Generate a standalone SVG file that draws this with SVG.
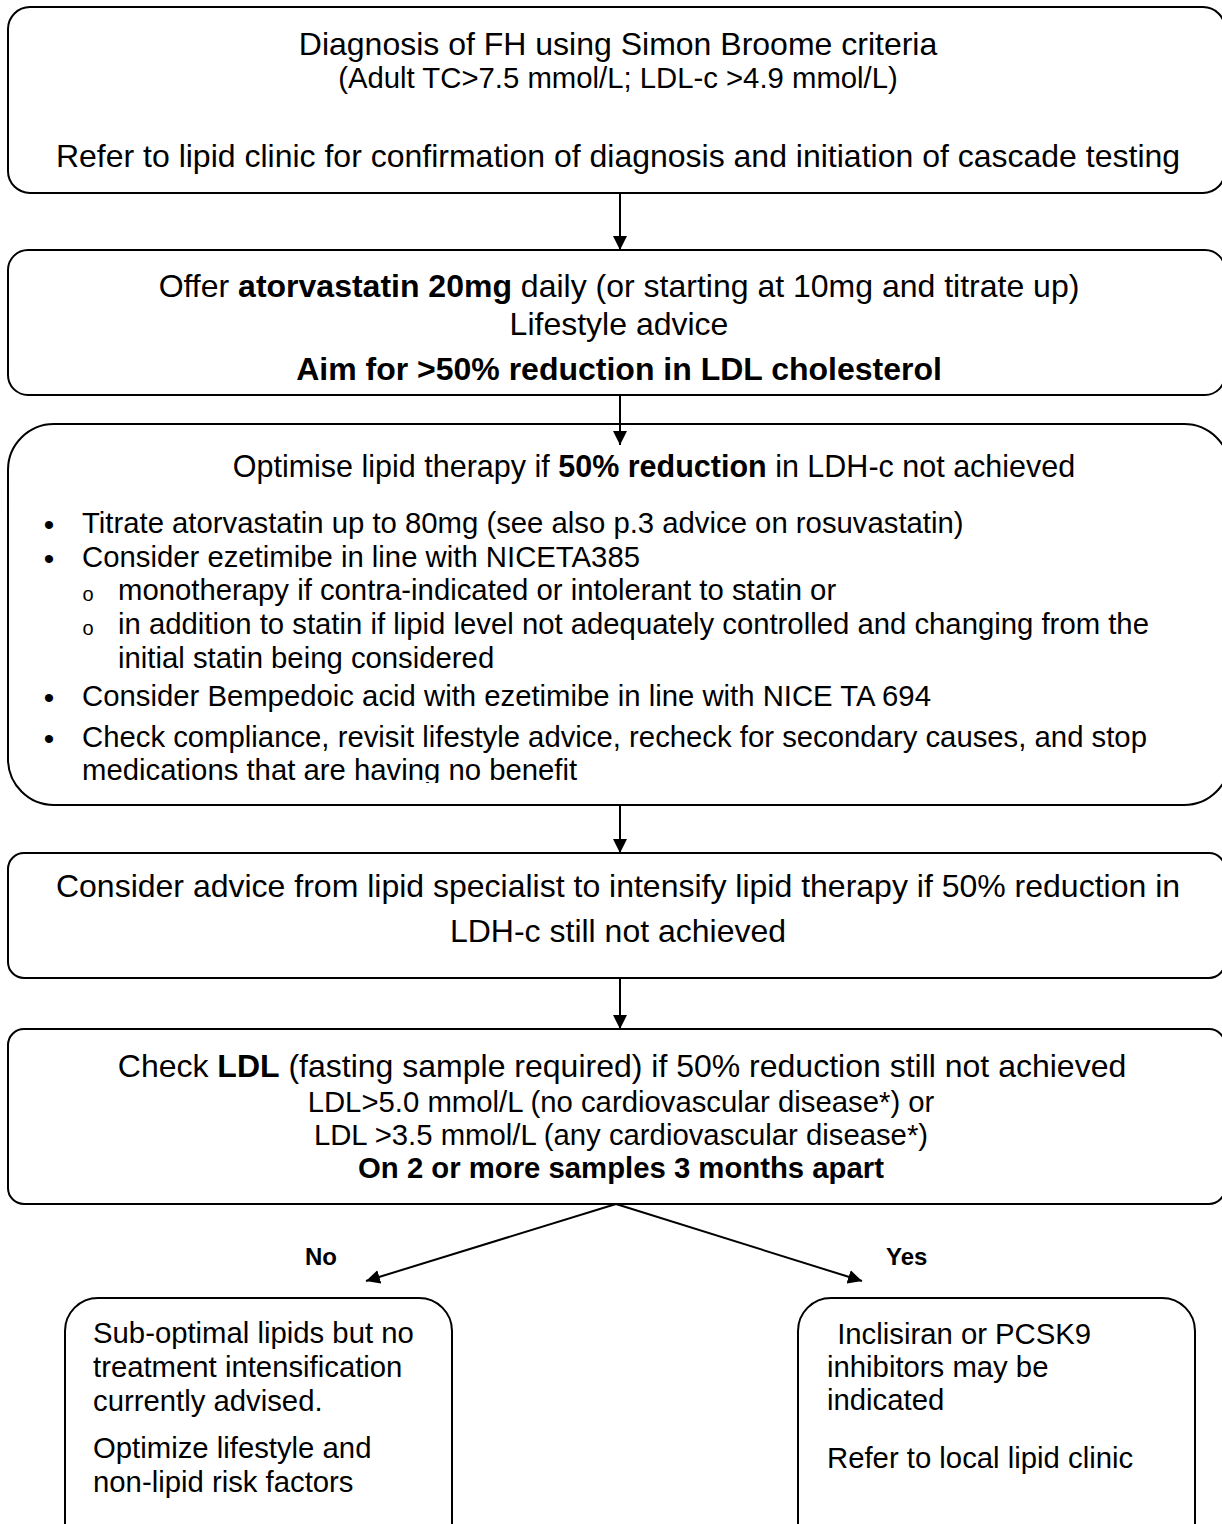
<svg xmlns="http://www.w3.org/2000/svg" width="1222" height="1524" viewBox="0 0 1222 1524">
<style>
.box{fill:#fff;stroke:#000;stroke-width:2}
.t{font-family:"Liberation Sans",Arial,sans-serif;fill:#000}
.c{text-anchor:middle}
.b{font-weight:bold}
.con{stroke:#000;stroke-width:2;fill:none}
</style>
<defs>
<marker id="ah" viewBox="0 0 10 10" refX="10" refY="5" markerWidth="14" markerHeight="14" markerUnits="userSpaceOnUse" orient="auto"><path d="M0,0 L10,5 L0,10 z" fill="#000"/></marker>
<clipPath id="clip3"><rect x="0" y="424" width="1222" height="359"/></clipPath>
</defs>
<rect width="1222" height="1524" fill="#fff"/>
<g id="n1">
<rect class="box" x="8" y="7" width="1217" height="186" rx="22"/>
<text class="t c" x="618" y="55" font-size="32">Diagnosis of FH using Simon Broome criteria</text>
<text class="t c" x="618" y="88" font-size="29.3">(Adult TC&gt;7.5 mmol/L; LDL-c &gt;4.9 mmol/L)</text>
<text class="t c" x="618" y="167" font-size="32">Refer to lipid clinic for confirmation of diagnosis and initiation of cascade testing</text>
</g>
<g id="n2">
<rect class="box" x="8" y="250" width="1217" height="145" rx="20"/>
<text class="t c" x="619" y="297" font-size="32">Offer <tspan class="b">atorvastatin 20mg</tspan> daily (or starting at 10mg and titrate up)</text>
<text class="t c" x="619" y="335" font-size="32">Lifestyle advice</text>
<text class="t c b" x="619" y="380" font-size="32">Aim for &gt;50% reduction in LDL cholesterol</text>
</g>
<g id="n3">
<rect class="box" x="8" y="424" width="1222" height="381" rx="46"/>
<text class="t c" x="654" y="477" font-size="30.5">Optimise lipid therapy if <tspan class="b">50% reduction</tspan> in LDH-c not achieved</text>
<g class="t" font-size="29.3" clip-path="url(#clip3)">
<text x="49" y="535" class="c" font-size="30">•</text><text x="82" y="533">Titrate atorvastatin up to 80mg (see also p.3 advice on rosuvastatin)</text>
<text x="49" y="569" class="c" font-size="30">•</text><text x="82" y="567">Consider ezetimibe in line with NICETA385</text>
<text x="88" y="601" class="c" font-size="20">o</text><text x="118" y="600">monotherapy if contra-indicated or intolerant to statin or</text>
<text x="88" y="635" class="c" font-size="20">o</text><text x="118" y="634">in addition to statin if lipid level not adequately controlled and changing from the</text>
<text x="118" y="668">initial statin being considered</text>
<text x="49" y="708" class="c" font-size="30">•</text><text x="82" y="706">Consider Bempedoic acid with ezetimibe in line with NICE TA 694</text>
<text x="49" y="749" class="c" font-size="30">•</text><text x="82" y="747">Check compliance, revisit lifestyle advice, recheck for secondary causes, and stop</text>
<text x="82" y="780">medications that are having no benefit</text>
</g>
</g>
<g id="n4">
<rect class="box" x="8" y="853" width="1217" height="125" rx="16"/>
<text class="t c" x="618" y="897" font-size="32">Consider advice from lipid specialist to intensify lipid therapy if 50% reduction in</text>
<text class="t c" x="618" y="942" font-size="32">LDH-c still not achieved</text>
</g>
<g id="n5">
<rect class="box" x="8" y="1029" width="1217" height="175" rx="16"/>
<text class="t c" x="622" y="1077" font-size="32">Check <tspan class="b">LDL</tspan> (fasting sample required) if 50% reduction still not achieved</text>
<text class="t c" x="621" y="1112" font-size="29.3">LDL&gt;5.0 mmol/L (no cardiovascular disease*) or</text>
<text class="t c" x="621" y="1145" font-size="29.3">LDL &gt;3.5 mmol/L (any cardiovascular disease*)</text>
<text class="t c b" x="621" y="1178" font-size="29.3">On 2 or more samples 3 months apart</text>
</g>
<g id="n6">
<rect class="box" x="65" y="1298" width="387" height="260" rx="33"/>
<g class="t" font-size="29.3">
<text x="93" y="1343">Sub-optimal lipids but no</text>
<text x="93" y="1377">treatment intensification</text>
<text x="93" y="1411">currently advised.</text>
<text x="93" y="1458">Optimize lifestyle and</text>
<text x="93" y="1492">non-lipid risk factors</text>
</g>
</g>
<g id="n7">
<rect class="box" x="798" y="1298" width="397" height="260" rx="33"/>
<g class="t" font-size="29.3">
<text x="829" y="1344" xml:space="preserve"> Inclisiran or PCSK9</text>
<text x="827" y="1377">inhibitors may be</text>
<text x="827" y="1410">indicated</text>
<text x="827" y="1468">Refer to local lipid clinic</text>
</g>
</g>
<g id="labels" class="t b" font-size="24">
<text x="305" y="1265">No</text>
<text x="886" y="1265">Yes</text>
</g>
<g id="connectors">
<line class="con" x1="620" y1="193" x2="620" y2="250" marker-end="url(#ah)"/>
<line class="con" x1="620" y1="395" x2="620" y2="445" marker-end="url(#ah)"/>
<line class="con" x1="620" y1="805" x2="620" y2="853" marker-end="url(#ah)"/>
<line class="con" x1="620" y1="978" x2="620" y2="1029" marker-end="url(#ah)"/>
<line class="con" x1="616" y1="1204" x2="366" y2="1281" marker-end="url(#ah)"/>
<line class="con" x1="616" y1="1204" x2="862" y2="1281" marker-end="url(#ah)"/>
</g>
</svg>
